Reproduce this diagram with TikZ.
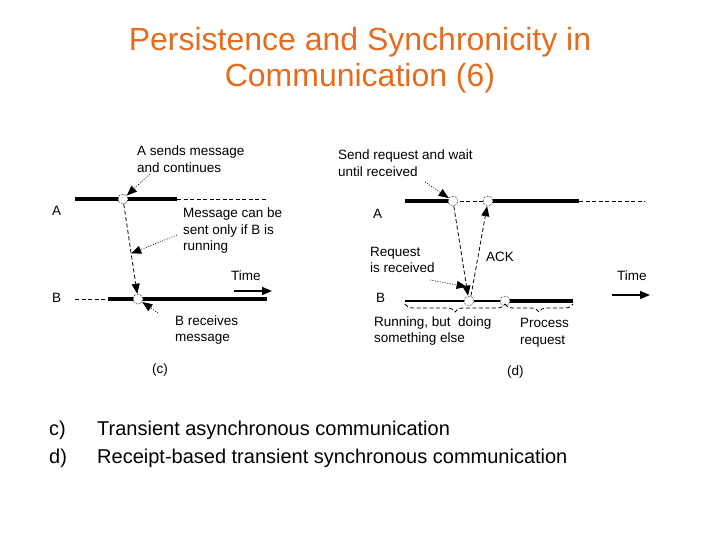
\documentclass[tikz,border=0pt]{standalone}
\usepackage{fontspec}
\setmainfont{Liberation Sans}
\usetikzlibrary{arrows.meta,decorations.pathreplacing}
\definecolor{titleorange}{RGB}{228,108,30}
\begin{document}
\begin{tikzpicture}[x=1pt,y=-1pt,
  titletext/.style={text=titleorange,font=\fontsize{32}{35}\selectfont,inner sep=0pt,anchor=base},
  captext/.style={font=\fontsize{20}{23}\selectfont,inner sep=0pt,anchor=base west},
  lbl/.style={font=\fontsize{13.5}{16.5}\selectfont,inner sep=0pt,align=left,anchor=west},
  thickline/.style={line width=3.2pt},
  medline/.style={line width=1.8pt},
  dashline/.style={line width=0.8pt,dash pattern=on 4pt off 2.5pt},
  msg/.style={line width=0.8pt,dash pattern=on 4pt off 2.5pt,-{Triangle[length=10pt,width=8pt]}},
  leader/.style={line width=0.6pt,dash pattern=on 1pt off 1.5pt,-{Triangle[length=10pt,width=8pt]}},
  timearrow/.style={line width=1.3pt,-{Triangle[length=10pt,width=8pt]}},
  pt/.style={circle,draw,fill=white,densely dotted,line width=0.6pt,minimum size=10pt,inner sep=0pt},
  bracestyle/.style={dashline,decorate,decoration={brace,mirror,amplitude=8pt}}
]
\useasboundingbox (0,0) rectangle (720,540);

% title
\node[titletext] (t1) at (360,51) {Persistence and Synchronicity in};
\node[titletext] (t2) at (360,87) {Communication (6)};

% ---------------- (c) ----------------
\coordinate (a0) at (75,199);
\coordinate (a1) at (177,199);
\coordinate (a2) at (267,199);
\coordinate (b0) at (75,299);
\coordinate (b1) at (108,299);
\coordinate (b2) at (267,299);
\draw[thickline] (a0) -- (a1);
\draw[dashline] (a1) -- (a2);
\draw[dashline] (b0) -- (b1);
\draw[thickline] (b1) -- (b2);
\node[pt] (ca) at (123,199) {};
\node[pt] (cb) at (138,299) {};
\draw[msg] (ca) -- coordinate[pos=0.55] (mmid) (cb);

\node[lbl] (la) at (52,211) {A};
\node[lbl] (lb) at (52,298) {B};
\node[lbl] (sends) at (137,159) {A sends message\\and continues};
\coordinate (sendsfrom) at (150,174);
\draw[leader] (sendsfrom) -- (ca);
\node[lbl] (canbe) at (183,231) {Message can be\\sent only if B is\\running};
\coordinate (canbefrom) at (177,235);
\draw[leader] (canbefrom) -- (mmid);
\node[lbl] (brec) at (175,330) {B receives\\message};
\coordinate (brecfrom) at (158,313);
\draw[leader] (brecfrom) -- (cb);
\node[lbl] (timec) at (231,276) {Time};
\coordinate (tc0) at (234,291);
\coordinate (tc1) at (272,291);
\draw[timearrow] (tc0) -- (tc1);
\node[lbl] (capc) at (152,370) {(c)};

% ---------------- (d) ----------------
\coordinate (da0) at (405,201);
\coordinate (da3) at (579,201);
\coordinate (da4) at (645,201);
\coordinate (db0) at (405,301);
\coordinate (db3) at (573,301);
\draw[thickline] (da0) -- (453,201);
\draw[dashline] (453,201) -- (488,201);
\draw[thickline] (488,201) -- (da3);
\draw[dashline] (da3) -- (da4);
\draw[medline] (db0) -- (505,301);
\draw[thickline] (505,301) -- (db3);
\node[pt] (ra1) at (453,201) {};
\node[pt] (ra2) at (488,201) {};
\node[pt] (rb1) at (469,301) {};
\node[pt] (rb2) at (505,301) {};
\draw[msg] (ra1) -- coordinate[pos=0.9] (reqpt) ([xshift=-1pt]rb1.north);
\draw[msg] ([xshift=2pt]rb1.north) -- (ra2);

\node[lbl] (lda) at (373,214) {A};
\node[lbl] (ldb) at (376,298) {B};
\node[lbl] (sendreq) at (338,163) {Send request and wait\\until received};
\coordinate (sendreqfrom) at (425,182);
\draw[leader] (sendreqfrom) -- (ra1);
\node[lbl] (reqrec) at (370,260) {Request\\is received};
\coordinate (reqrecfrom) at (430,280);
\draw[leader] (reqrecfrom) -- (reqpt);
\node[lbl] (ack) at (486,257) {ACK};
\coordinate (br0) at (405,304);
\coordinate (br1) at (505,304);
\coordinate (br2) at (573,304);
\draw[bracestyle] (br0) -- (br1);
\draw[bracestyle] (br1) -- (br2);
\node[lbl] (running) at (374,331) {Running, but\ \ doing\\something else};
\node[lbl] (process) at (520,333) {Process\\request};
\node[lbl] (timed) at (617,276) {Time};
\coordinate (td0) at (612,295);
\coordinate (td1) at (650,295);
\draw[timearrow] (td0) -- (td1);
\node[lbl] (capd) at (507,372) {(d)};

% captions
\node[captext] (c1) at (49,435) {c)};
\node[captext] (c1t) at (97,435) {Transient asynchronous communication};
\node[captext] (d1) at (49,463) {d)};
\node[captext] (d1t) at (97,463) {Receipt-based transient synchronous communication};
\end{tikzpicture}
\end{document}
